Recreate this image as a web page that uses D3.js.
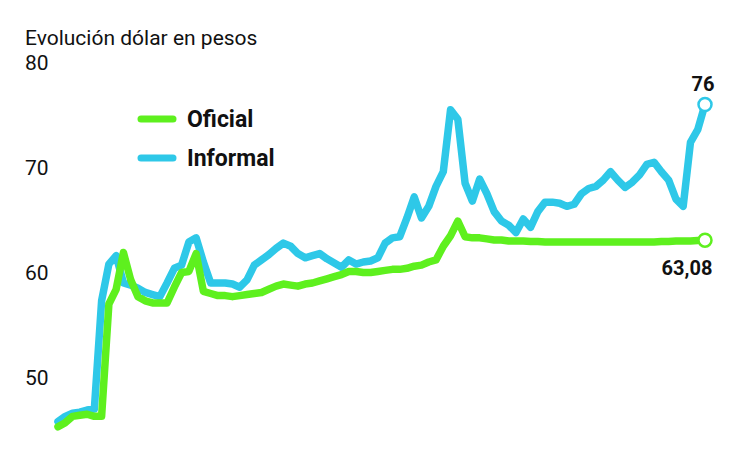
<!DOCTYPE html>
<html>
<head>
<meta charset="utf-8">
<script src="https://cdn.jsdelivr.net/npm/d3@7"></script>
<style>
  body { margin: 0; background: #fff; }
  svg { display: block; }
  .tick text { font-family: Roboto, "Noto Sans", sans-serif; font-size: 21px; fill: #111; }
</style>
</head>
<body>
<div id="chart"></div>
<script>
// valores, una muestra por rueda
var informal = [45.8, 46.3, 46.6, 46.7, 46.9, 47.0, 57.3, 60.8, 61.6, 59.0,
  58.8, 58.5, 58.1, 57.9, 57.7, 59.0, 60.4, 60.7, 62.9, 63.3,
  61.0, 59.0, 59.0, 59.0, 58.9, 58.6, 59.3, 60.7, 61.2, 61.7,
  62.3, 62.8, 62.5, 61.8, 61.4, 61.6, 61.8, 61.3, 60.9, 60.5,
  61.2, 60.8, 61.0, 61.1, 61.4, 62.8, 63.3, 63.4, 65.2, 67.2,
  65.2, 66.3, 68.2, 69.6, 75.5, 74.6, 68.5, 66.8, 68.9, 67.5,
  65.8, 64.9, 64.5, 63.8, 65.1, 64.3, 65.8, 66.7, 66.7, 66.6,
  66.3, 66.5, 67.5, 68.0, 68.2, 68.8, 69.6, 68.8, 68.1, 68.6,
  69.3, 70.3, 70.5, 69.6, 68.8, 67.0, 66.3, 72.4, 73.6, 76.0];

var oficial = [45.3, 45.7, 46.3, 46.4, 46.5, 46.3, 46.3, 57.0, 58.4, 61.9,
  59.3, 57.7, 57.3, 57.1, 57.1, 57.1, 58.6, 60.0, 60.1, 61.8,
  58.2, 58.0, 57.8, 57.8, 57.7, 57.8, 57.9, 58.0, 58.1, 58.4,
  58.7, 58.9, 58.8, 58.7, 58.9, 59.0, 59.2, 59.4, 59.6, 59.8,
  60.1, 60.1, 60.0, 60.0, 60.1, 60.2, 60.3, 60.3, 60.4, 60.6,
  60.7, 61.0, 61.2, 62.5, 63.5, 64.9, 63.4, 63.3, 63.3, 63.2,
  63.1, 63.1, 63.0, 63.0, 63.0, 62.95, 62.95, 62.9, 62.9, 62.9,
  62.9, 62.9, 62.9, 62.9, 62.9, 62.9, 62.9, 62.9, 62.9, 62.9,
  62.9, 62.9, 62.9, 62.95, 62.95, 63.0, 63.0, 63.0, 63.05, 63.08];

var series = [
  {nombre: "Informal", valores: informal, color: "#2ec8e8", etiqueta: "76"},
  {nombre: "Oficial", valores: oficial, color: "#5ef01e", etiqueta: "63,08"}
];
var yTicks = [50, 60, 70, 80];
var titulo = "Evolución dólar en pesos";

var width = 730, height = 460;

var svg = d3.select("#chart").append("svg")
    .attr("width", width)
    .attr("height", height);

var x = d3.scaleLinear()
    .domain([0, informal.length - 1])
    .range([58, 705]);

var y = d3.scaleLinear()
    .domain([50, 80])
    .range([377.5, 62.5]);

svg.append("text")
    .attr("x", 25)
    .attr("y", 45)
    .attr("font-family", "Roboto, 'Noto Sans', sans-serif")
    .attr("font-size", 21)
    .attr("fill", "#111")
    .text(titulo);

var yAxis = svg.append("g")
    .attr("transform", "translate(25,0)")
    .call(d3.axisLeft(y).tickValues(yTicks).tickSize(0).tickPadding(0));
yAxis.select(".domain").remove();
yAxis.selectAll("text")
    .attr("text-anchor", "start")
    .attr("x", 0);

var line = d3.line()
    .x(function(d, i) { return x(i); })
    .y(function(d) { return y(d); })
    .curve(d3.curveLinear);

svg.selectAll("path.serie")
    .data(series)
    .enter().append("path")
      .attr("class", "serie")
      .attr("d", function(d) { return line(d.valores); })
      .attr("fill", "none")
      .attr("stroke", function(d) { return d.color; })
      .attr("stroke-width", 7.5)
      .attr("stroke-linejoin", "round")
      .attr("stroke-linecap", "round");

// circulos finales
svg.selectAll("circle.fin")
    .data(series)
    .enter().append("circle")
      .attr("class", "fin")
      .attr("cx", function(d) { return x(d.valores.length - 1); })
      .attr("cy", function(d) { return y(d.valores[d.valores.length - 1]); })
      .attr("r", 6.5)
      .attr("fill", "#fff")
      .attr("stroke", function(d) { return d.color; })
      .attr("stroke-width", 2.5);

svg.selectAll("text.fin")
    .data(series)
    .enter().append("text")
      .attr("class", "fin")
      .attr("x", function(d, i) { return x(d.valores.length - 1) - (i == 0 ? 2 : 18); })
      .attr("y", function(d, i) { return y(d.valores[d.valores.length - 1]) + (i == 0 ? -14 : 35); })
      .attr("text-anchor", "middle")
      .attr("font-family", "Roboto, 'Noto Sans', sans-serif")
      .attr("font-weight", "bold")
      .attr("font-size", 20)
      .attr("fill", "#111")
      .text(function(d) { return d.etiqueta; });

// leyenda
var legend = svg.selectAll("g.leyenda")
    .data(series.slice().reverse())
    .enter().append("g")
      .attr("class", "leyenda")
      .attr("transform", function(d, i) { return "translate(141," + (119 + i * 39) + ")"; });

legend.append("line")
    .attr("x1", 0)
    .attr("x2", 32)
    .attr("stroke", function(d) { return d.color; })
    .attr("stroke-width", 7)
    .attr("stroke-linecap", "round");

legend.append("text")
    .attr("x", 46)
    .attr("y", 8)
    .attr("font-family", "Roboto, 'Noto Sans', sans-serif")
    .attr("font-weight", "bold")
    .attr("font-size", 23)
    .attr("fill", "#111")
    .text(function(d) { return d.nombre; });
</script>
</body>
</html>
